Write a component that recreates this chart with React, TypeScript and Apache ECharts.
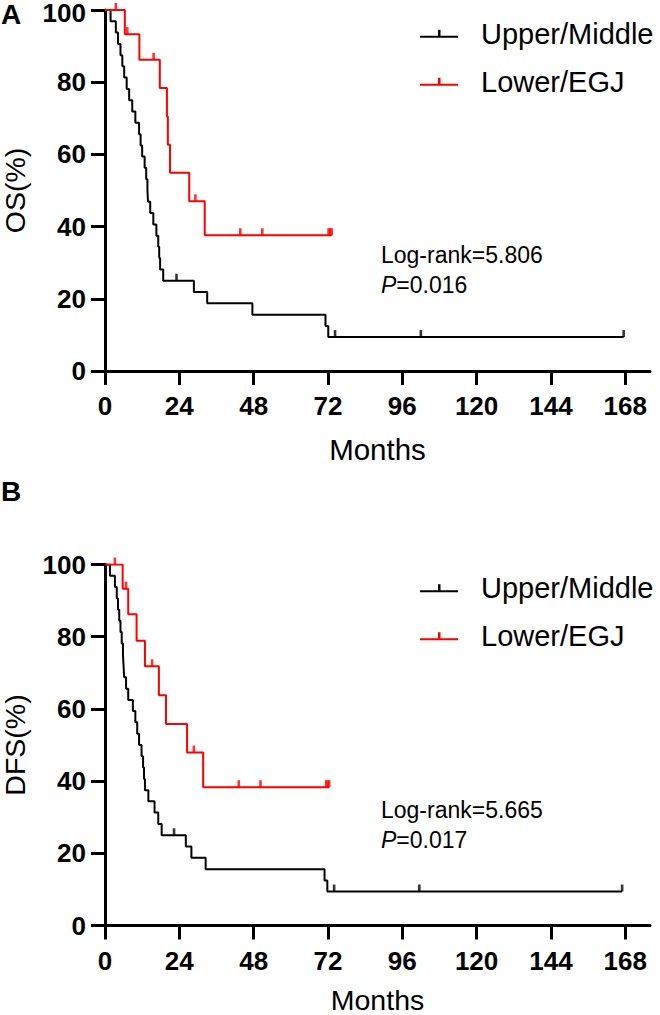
import React, { useEffect, useRef } from "react";
import * as echarts from "echarts";

const FONT = "'Liberation Sans', Arial, Helvetica, sans-serif";

const monthTicks = [0, 24, 48, 72, 96, 120, 144, 168];
const groupNames = ["Upper/Middle", "Lower/EGJ"];
const groupColors = ["#000000", "#ff0000"];

// Panel A: overall survival
const osUpperTimes = [1.8, 3.5, 4.2, 5.0, 5.6, 6.2, 7.0, 7.8, 8.8, 9.8, 11.0, 11.5, 12.0, 12.8, 13.3, 13.7, 13.9, 14.6, 15.6, 16.6, 17.2, 17.5, 17.8, 18.8, 28.7, 33.0, 47.6, 71.2, 72.1];
const osUpperSurv = [96.9, 93.8, 90.6, 87.5, 84.4, 81.3, 78.1, 75.0, 71.9, 68.8, 65.6, 62.5, 59.4, 56.3, 53.1, 50.0, 46.9, 43.8, 40.6, 37.5, 34.4, 31.3, 28.1, 25.0, 21.9, 18.8, 15.6, 12.5, 9.4];
const osUpperCensor = [23.1, 74.3, 102.0, 167.5];

const osLowerTimes = [6.4, 11.1, 17.7, 20.0, 20.3, 21.0, 27.2, 32.2];
const osLowerSurv = [93.3, 86.2, 78.4, 70.5, 62.7, 54.9, 47.0, 37.6];
const osLowerCensor = [3.5, 7.2, 15.7, 29.2, 43.7, 50.8, 72.2, 72.7, 73.2];

// Panel B: disease-free survival
const dfsUpperTimes = [1.6, 3.2, 3.8, 4.2, 4.6, 5.0, 5.4, 5.8, 6.0, 6.2, 6.8, 7.5, 9.0, 9.8, 10.4, 11.0, 11.8, 12.3, 12.6, 12.9, 14.0, 16.0, 17.2, 18.3, 26.1, 27.9, 32.5, 70.9, 71.8];
const dfsUpperSurv = [96.9, 93.8, 90.6, 87.5, 84.4, 81.3, 78.1, 75.0, 71.9, 68.8, 65.6, 62.5, 59.4, 56.3, 53.1, 50.0, 46.9, 43.8, 40.6, 37.5, 34.4, 31.3, 28.1, 25.0, 21.9, 18.8, 15.6, 12.5, 9.4];
const dfsUpperCensor = [22.3, 74.0, 101.5, 167.0];

const dfsLowerTimes = [5.7, 7.5, 10.2, 12.9, 17.4, 19.7, 26.5, 31.7];
const dfsLowerSurv = [93.3, 86.2, 78.9, 71.8, 63.8, 55.8, 47.9, 38.3];
const dfsLowerCensor = [3.2, 6.8, 15.2, 28.7, 43.2, 50.2, 71.4, 71.9, 72.4];

const panelLetters = ["A", "B"];
const yNames = ["OS(%)", "DFS(%)"];
const logRankTexts = ["Log-rank=5.806", "Log-rank=5.665"];
const pValueTexts = ["0.016", "0.017"];

function curve(times: number[], surv: number[], censors: number[]) {
  const end = Math.max(times[times.length - 1], ...censors);
  const pts: number[][] = [[0, 100]];
  times.forEach((t, i) => pts.push([t, surv[i]]));
  pts.push([end, surv[surv.length - 1]]);
  return pts;
}

function censorPts(times: number[], surv: number[], censors: number[]) {
  return censors.map((c) => {
    let s = 100;
    times.forEach((t, i) => {
      if (t <= c) s = surv[i];
    });
    return [c, s];
  });
}

const GRID_LEFT = 105;
const GRID_WIDTH = 545;
const GRID_HEIGHT = 361;
const GRID_TOPS = [10, 564.5];

export default function App() {
  const ref = useRef<HTMLDivElement>(null);

  useEffect(() => {
    if (!ref.current) return;
    const chart = echarts.init(ref.current, null, { renderer: "svg" });

    const panels = [
      [
        [osUpperTimes, osUpperSurv, osUpperCensor],
        [osLowerTimes, osLowerSurv, osLowerCensor],
      ],
      [
        [dfsUpperTimes, dfsUpperSurv, dfsUpperCensor],
        [dfsLowerTimes, dfsLowerSurv, dfsLowerCensor],
      ],
    ];

    const series: any[] = [];
    panels.forEach((groups, p) => {
      groups.forEach(([t, s, c], g) => {
        series.push({
          type: "line",
          name: groupNames[g],
          xAxisIndex: p,
          yAxisIndex: p,
          step: "end",
          showSymbol: false,
          symbol: "none",
          data: curve(t, s, c),
          lineStyle: { color: groupColors[g], width: 2 },
          itemStyle: { color: groupColors[g] },
          z: 3 + g,
          silent: true,
        });
        series.push({
          type: "scatter",
          name: groupNames[g] + " censored",
          xAxisIndex: p,
          yAxisIndex: p,
          symbol: "rect",
          symbolSize: [2.6, 7],
          symbolOffset: [0, -3.5],
          data: censorPts(t, s, c),
          itemStyle: { color: groupColors[g] },
          z: 3 + g,
          silent: true,
        });
      });
    });

    const icon = "path://M0,6 L38,6 L38,8 L0,8 Z M18,0 L20.5,0 L20.5,6 L18,6 Z";

    const axisCommon = {
      axisLine: { show: true, onZero: false, lineStyle: { color: "#000", width: 3 } },
      axisTick: { show: true, length: 14, lineStyle: { color: "#000", width: 3 } },
      splitLine: { show: false },
    };

    const tickRich = {
      n: { fontFamily: FONT, fontSize: 26, fontWeight: "bold", color: "#000", lineHeight: 20 },
      top: {
        fontFamily: FONT,
        fontSize: 26,
        fontWeight: "bold",
        color: "#000",
        lineHeight: 20,
        padding: [6, 0, 0, 0],
      },
    };

    const graphics: any[] = [];
    GRID_TOPS.forEach((top, p) => {
      graphics.push({
        type: "text",
        x: 1,
        y: p === 0 ? 14 : 491,
        style: {
          text: panelLetters[p],
          fontFamily: FONT,
          fontWeight: "bold",
          fontSize: 28,
          lineHeight: 22,
          fill: "#000",
          verticalAlign: "middle",
          align: "left",
        },
      });
      graphics.push({
        type: "text",
        x: 381,
        y: top + 245,
        style: {
          text: logRankTexts[p],
          fontFamily: FONT,
          fontSize: 23,
          fill: "#000",
          verticalAlign: "middle",
          align: "left",
        },
      });
      graphics.push({
        type: "text",
        x: 381,
        y: top + 275,
        style: {
          text: "{i|P}=" + pValueTexts[p],
          fontFamily: FONT,
          fontSize: 23,
          fill: "#000",
          verticalAlign: "middle",
          align: "left",
          rich: {
            i: { fontStyle: "italic", fontFamily: FONT, fontSize: 23, fill: "#000" },
          },
        },
      });
    });

    chart.setOption({
      animation: false,
      backgroundColor: "#fff",
      grid: GRID_TOPS.map((top) => ({
        left: GRID_LEFT,
        top,
        width: GRID_WIDTH,
        height: GRID_HEIGHT,
        containLabel: false,
        outerBoundsMode: "none",
      })),
      legend: GRID_TOPS.map((top) => ({
        data: groupNames,
        orient: "vertical",
        left: 420,
        top: top + 8.7,
        padding: 0,
        itemWidth: 38,
        itemHeight: 8,
        itemGap: 18,
        icon,
        selectedMode: false,
        textStyle: {
          fontFamily: FONT,
          fontSize: 29,
          color: "#000",
          lineHeight: 30,
          padding: [0, 0, 0, 18],
        },
      })),
      xAxis: GRID_TOPS.map((_, p) => ({
        type: "value",
        gridIndex: p,
        min: 0,
        max: 176,
        name: "Months",
        nameLocation: "middle",
        nameGap: p === 0 ? 67 : 63,
        nameTextStyle: { fontFamily: FONT, fontSize: p === 0 ? 29.5 : 28.5, lineHeight: 22, color: "#000" },
        ...axisCommon,
        axisTick: { ...axisCommon.axisTick, customValues: monthTicks },
        axisLabel: {
          customValues: monthTicks,
          fontFamily: FONT,
          fontSize: 26,
          fontWeight: "bold",
          color: "#000",
          margin: 22,
        },
      })),
      yAxis: GRID_TOPS.map((_, p) => ({
        type: "value",
        gridIndex: p,
        min: 0,
        max: 100,
        interval: 20,
        name: yNames[p],
        nameLocation: "middle",
        nameGap: 79.5,
        nameTextStyle: { fontFamily: FONT, fontSize: 28.5, lineHeight: 22, color: "#000" },
        ...axisCommon,
        axisLabel: {
          fontFamily: FONT,
          fontSize: 26,
          lineHeight: 20,
          fontWeight: "bold",
          color: "#000",
          margin: 19,
          formatter: (v: number) => (v === 100 && p === 0 ? "{top|" + v + "}" : "{n|" + v + "}"),
          rich: tickRich,
        },
      })),
      series,
      graphic: graphics,
    });

    return () => {
      chart.dispose();
    };
  }, []);

  return (
    <div
      ref={ref}
      style={{ position: "absolute", left: 0, top: 0, width: 660, height: 1015, background: "#fff" }}
    />
  );
}
